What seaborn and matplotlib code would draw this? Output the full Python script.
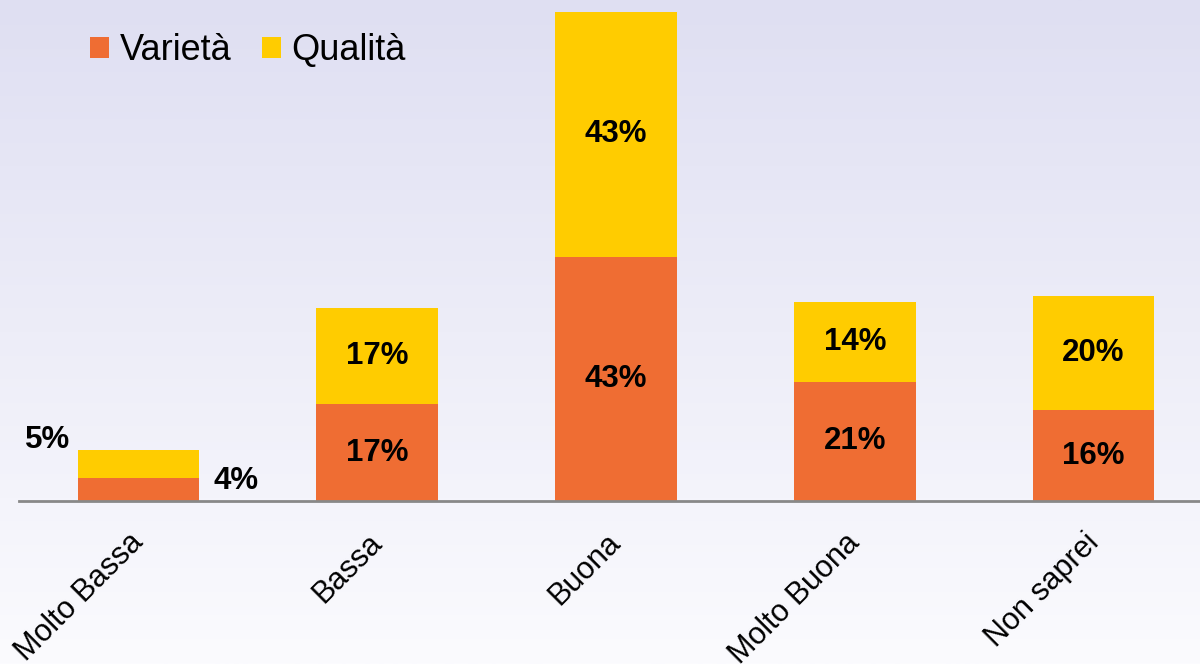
import numpy as np
import pandas as pd
import matplotlib
matplotlib.use("Agg")
import matplotlib.pyplot as plt
import matplotlib.transforms as mtransforms
import seaborn as sns
from matplotlib.patches import Patch

categories = ["Molto Bassa", "Bassa", "Buona", "Molto Buona", "Non saprei"]
varieta = [4, 17, 43, 21, 16]
qualita = [5, 17, 43, 14, 20]
series_names = ["Varietà", "Qualità"]

ORANGE = "#EF6D33"
YELLOW = "#FFCC00"

sns.set_theme(style="white")
plt.rcParams["font.family"] = ["Liberation Sans", "DejaVu Sans"]
plt.rcParams["text.color"] = "black"

fig = plt.figure(figsize=(12, 6.64), dpi=100)

# gradient background
bg = fig.add_axes([0, 0, 1, 1], zorder=0)
top = np.array([0xDF, 0xDF, 0xF2]) / 255
bot = np.array([0xFB, 0xFB, 0xFE]) / 255
t = np.linspace(0, 1, 256)[:, None]
grad = (top[None, :] * (1 - t) + bot[None, :] * t)[:, None, :]
bg.imshow(grad, aspect="auto", extent=[0, 1, 0, 1], origin="upper")
bg.set_axis_off()

ax = fig.add_axes([19 / 1200, 163 / 664, 1194 / 1200, 489 / 664], zorder=1)
ax.patch.set_alpha(0)

df = pd.DataFrame({"cat": categories, "var": varieta, "qual": qualita})
df["total"] = df["var"] + df["qual"]

sns.barplot(data=df, x="cat", y="total", color=YELLOW, saturation=1, width=0.51,
            ax=ax, linewidth=0, zorder=2)
sns.barplot(data=df, x="cat", y="var", color=ORANGE, saturation=1, width=0.51,
            ax=ax, linewidth=0, zorder=3)

ax.set_xlim(-0.5, 4.5)
ax.set_ylim(0, 86)
ax.set_xlabel("")
ax.set_ylabel("")
ax.set_yticks([])
for s in ["top", "right", "left"]:
    ax.spines[s].set_visible(False)
ax.spines["bottom"].set_color("#888888")
ax.spines["bottom"].set_linewidth(2)
ax.spines["bottom"].set_zorder(4)
ax.tick_params(axis="x", length=0, pad=12)
ax.set_xticks(range(len(categories)))
ax.set_xticklabels(categories, rotation=45, ha="right", va="top",
                   rotation_mode="anchor", fontsize=22, color="black")
offset = mtransforms.ScaledTranslation(-0.10, -0.10, fig.dpi_scale_trans)
for lbl in ax.get_xticklabels():
    lbl.set_transform(lbl.get_transform() + offset)

lab_kw = dict(ha="center", va="center", fontsize=22.5, fontweight="bold",
              color="black", zorder=5)
for i, (v, q) in enumerate(zip(varieta, qualita)):
    if i == 0:
        ax.text(i - 0.38, v + q + 1.7, f"{q}%", **lab_kw)
        ax.text(i + 0.41, v - 0.5, f"{v}%", **lab_kw)
    else:
        ax.text(i, v / 2, f"{v}%", **lab_kw)
        ax.text(i, v + q / 2, f"{q}%", **lab_kw)

handles = [Patch(facecolor=ORANGE, edgecolor="none"),
           Patch(facecolor=YELLOW, edgecolor="none")]
fig.legend(handles, series_names, loc="upper left",
           bbox_to_anchor=(0.048, 0.999), frameon=False, fontsize=26,
           labelcolor="black",
           handlelength=0.53, handleheight=0.53, handletextpad=0.28,
           columnspacing=0.86, ncol=2)

fig.savefig("out.png", dpi=100)
